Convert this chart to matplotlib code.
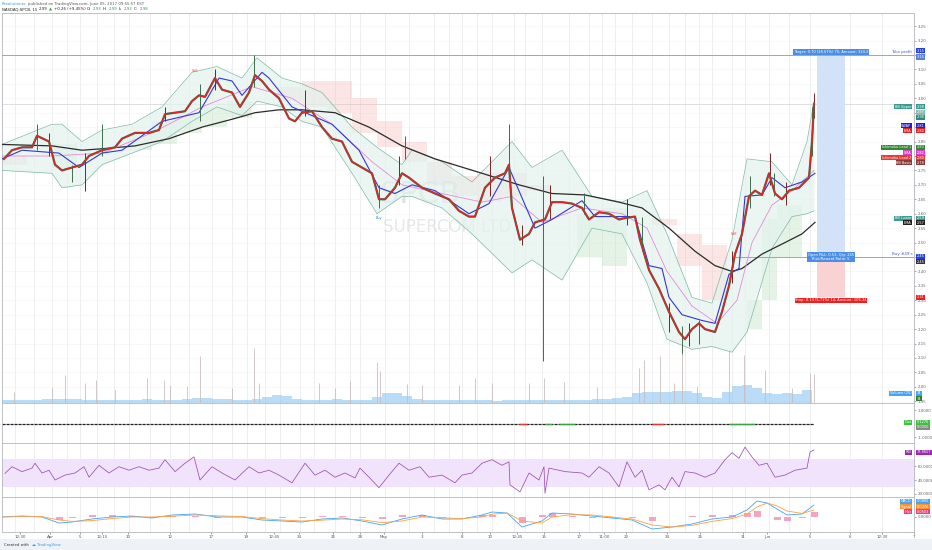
import numpy as np
import matplotlib
matplotlib.use("Agg")
import matplotlib.pyplot as plt
from matplotlib.transforms import blended_transform_factory
from matplotlib.patches import Rectangle

W, H = 932, 550

# ---------------- data ----------------
close_x = [2,10,20,30,35,47,53,60,70,80, 87,100,113,120,133,147,157,163,173,183,
           190,197,203,213,220,230,238,247,253,260, 267,277,287,293,300,310,320,330,340,350,
           360,370,377,383,393,400,407,420,433,447, 457,467,473,483,493,503,507,510,518,527,
           533,543,550,560,570,580,587,597,607,617, 623,633,638,647,657,667,677,683,690,697,
           703,713,720,727,733,740,747,753,760,767, 773,780,787,797,807,810,812]
close_p = [2.79,2.82,2.83,2.83,2.87,2.85,2.77,2.75,2.76,2.77, 2.80,2.82,2.83,2.86,2.88,2.88,2.89,2.945,2.95,2.955,
           2.99,3.01,3.005,3.07,3.03,3.02,2.97,3.02,3.08,3.06, 3.03,3.00,2.93,2.92,2.95,2.955,2.90,2.86,2.85,2.78,
           2.76,2.74,2.65,2.65,2.69,2.74,2.725,2.69,2.67,2.65, 2.61,2.59,2.59,2.69,2.725,2.74,2.77,2.62,2.51,2.53,
           2.57,2.58,2.64,2.64,2.635,2.62,2.58,2.605,2.60,2.58, 2.585,2.59,2.51,2.405,2.34,2.26,2.19,2.165,2.20,2.22,
           2.20,2.19,2.26,2.35,2.46,2.53,2.66,2.68,2.665,2.74, 2.67,2.65,2.68,2.69,2.725,2.85,2.98]

wick_x  = [35,47,70,83,100,163,198,213,252,303,377,397,403,488,507,520,541,548,582,625,640,667,680,687,697,730,748,768,772,784,810,812]
wick_lo = [2.82,2.80,2.71,2.68,2.80,2.92,2.92,3.03,3.04,2.94,2.62,2.70,2.79,2.66,2.72,2.49,2.09,2.58,2.60,2.56,2.47,2.19,2.11,2.14,2.15,2.36,2.62,2.70,2.66,2.63,2.80,2.93]
wick_hi = [2.91,2.88,2.77,2.81,2.91,2.97,3.05,3.10,3.15,3.03,2.70,2.80,2.87,2.80,2.91,2.56,2.73,2.70,2.67,2.65,2.59,2.29,2.21,2.22,2.23,2.47,2.73,2.81,2.74,2.71,2.97,3.02]

sma_x = [0,50,80,100,133,167,200,233,253,277,300,333,367,400,433,480,517,550,583,617,640,667,693,713,730,740,760,783,800,813]
sma_p = [2.84,2.835,2.82,2.825,2.835,2.86,2.90,2.93,2.95,2.96,2.96,2.95,2.90,2.835,2.79,2.74,2.70,2.67,2.665,2.64,2.62,2.55,2.47,2.42,2.40,2.41,2.46,2.50,2.53,2.57]

bb_x  = [0,50,60,80,100,130,160,190,215,240, 255,280,300,320,350,375,400,410,440,470,
         510,530,560,590,620,645,665,690,710,730, 745,770,790,805,812]
bb_up = [2.84,2.91,2.91,2.85,2.89,2.91,2.97,3.09,3.11,3.07, 3.14,3.07,3.05,3.02,2.90,2.83,2.77,2.82,2.78,2.71,
         2.85,2.76,2.82,2.66,2.64,2.68,2.53,2.31,2.29,2.51, 2.79,2.78,2.70,2.85,2.99]
bb_lo = [2.75,2.74,2.69,2.70,2.77,2.81,2.85,2.92,2.97,2.94, 2.99,2.97,2.92,2.90,2.74,2.60,2.66,2.66,2.62,2.53,
         2.395,2.44,2.37,2.55,2.53,2.36,2.165,2.13,2.14,2.12, 2.19,2.48,2.59,2.60,2.61]

cloud_x = [0,25,50,75,100,125,150,175,200,225, 250,275,300,325,350,375,400,425,450,475,
           500,525,550,575,600,625,650,675,700,725, 745,760,775,800,820,840]
span_a = [2.77,2.77,2.84,2.84,2.77,2.88,2.92,2.95,2.97,2.99, 3.00,2.99,2.97,2.95,2.88,2.83,2.78,2.70,2.66,2.64,
          2.66,2.68,2.45,2.60,2.62,2.60,2.56,2.42,2.30,2.18, 2.30,2.58,2.63,2.68,2.70,2.70]
span_b = [2.80,2.80,2.76,2.77,2.80,2.82,2.84,2.88,2.90,2.93, 2.96,3.04,3.06,3.06,3.00,2.92,2.85,2.78,2.73,2.74,
          2.74,2.70,2.52,2.45,2.42,2.42,2.58,2.53,2.49,2.33, 2.20,2.30,2.45,2.62,2.73,2.73]

vwap_x = [0,20,57,77,100,120,160,197,217,230, 240,260,267,290,300,330,357,377,393,410,
          433,467,487,507,533,550,580,593,620,633, 647,660,667,680,700,713,727,737,743,760, 770,783,800,813]
vwap_p = [2.79,2.82,2.81,2.76,2.81,2.82,2.92,2.95,3.07,3.06, 3.01,3.09,3.07,2.97,2.955,2.91,2.82,2.69,2.67,2.70,
          2.68,2.60,2.635,2.76,2.55,2.58,2.645,2.59,2.59,2.59, 2.42,2.41,2.31,2.25,2.23,2.22,2.39,2.41,2.66,2.665,
          2.725,2.69,2.71,2.74]

pink_x = [0,50,100,150,200,250,290,330,370,400,440,480,510,540,580,620,645,665,690,715,735,750,770,790,812]
pink_p = [2.80,2.80,2.81,2.88,2.97,3.04,3.00,2.91,2.78,2.70,2.67,2.64,2.66,2.57,2.62,2.60,2.55,2.40,2.28,2.22,2.30,2.50,2.63,2.68,2.75]

vol = [30,28,25,30,35,40,42,35,28,30, 32,30,28,30,35,30,28,30,40,48, 50,42,35,30,30,35,60,75,70,40,
       30,28,30,35,30,28,30,60,95,100, 70,35,30,28,25,25,28,30,25,22, 25,28,30,25,25,28,30,25,30,35,
       40,45,60,95,105,110,110,120,115,100, 60,50,110,170,180,150,100,90,95,85, 130]
spike_x = [12,50,63,83,94,113,145,162,168,185, 198,230,252,257,317,333,348,375,378,405,
           420,457,473,490,527,542,562,595,637,642, 658,672,680,695,727,742,763,790,808,812]
spike_v = [110,160,280,200,230,130,250,230,180,170, 470,150,550,200,200,150,220,410,320,190,
           180,180,250,200,200,250,210,160,350,430, 470,200,500,170,530,480,330,150,300,290]

rsi_x = [3,10,20,30,33,40,47,53,63,73, 82,87,97,107,117,127,137,147,157,163,
         173,183,192,198,210,220,233,247,257,267, 277,290,303,313,323,333,343,353,358,367,
         377,387,397,407,418,427,440,453,460,470, 480,490,500,507,508,518,527,537,542,543,
         547,563,580,587,597,607,617,625,633,640, 647,657,663,670,677,683,693,703,713,723,
         730,737,743,750,757,765,773,783,793,805, 808,812]
rsi_v = [49.5,59,52,57,64,50,54,40,47,50, 59,44,61,50,59,54,59,54,57,69,
         52,64,73,40,59,50,40,59,50,54, 47,36,64,47,54,44,50,43,57,44,
         29,47,64,54,59,44,47,36,47,50, 64,69,61,66,33,23,50,40,59,21,
         57,52,50,44,59,50,30,66,44,54, 26,33,26,44,30,52,50,44,50,69,
         79,71,87,73,61,64,44,47,54,57, 80,83]

macd_x = [0,20,40,57,70,90,110,130,150,170, 193,215,240,260,280,300,320,340,360,380,
          400,420,440,460,480,490,505,520,540,550, 570,590,610,630,650,670,690,710,730,745,
          755,765,775,785,800,812]
macd_v = [0.0,0.005,0.0,-0.03,-0.025,-0.01,0.0,0.005,-0.005,0.01, 0.015,0.0,0.0,-0.015,-0.02,-0.025,-0.01,-0.005,-0.02,-0.04,
          -0.01,0.01,-0.01,-0.01,0.01,0.025,0.02,-0.05,-0.02,0.02, 0.015,0.005,-0.005,-0.015,-0.06,-0.05,-0.035,-0.01,0.0,0.035,
          0.08,0.07,0.04,0.01,0.015,0.06]
signal_v = [0.0,0.002,0.002,-0.015,-0.022,-0.018,-0.008,0.0,0.0,0.004, 0.01,0.006,0.002,-0.008,-0.015,-0.02,-0.016,-0.01,-0.014,-0.028,
            -0.02,0.0,-0.004,-0.008,0.0,0.014,0.02,-0.02,-0.03,0.0, 0.012,0.01,0.0,-0.01,-0.04,-0.05,-0.042,-0.022,-0.008,0.015,
            0.05,0.07,0.055,0.03,0.018,0.035]

dist_start = [517,543,557,650,727]
dist_end   = [525,550,573,662,753]
dist_col   = ['#e53935','#43a047','#43a047','#e53935','#43a047']

session_starts = [13,32,50,65,78,95,112,127,148,168,187,210,230,245,263,278,298,312,333,348,358,383,
                  407,432,447,460,475,490,512,523,540,567,587,600,613,630,650,667,683,697,710,730,
                  743,767,787,808,848,880,912]
tick_x = [18,48,78,100,126,168,209,244,272,297,331,358,382,420,460,488,515,542,577,602,624,665,698,741,765,808,848,880,912]
tick_labels = ['12:30','Apr','5','12:15','10','12','17','19','12:45','24','26','28','May','3','8','10','12:45',
               '15','17','11:00','22','24','26','31','Jun','5','6','12:30','7']

last_price = 2.98
entry_price, target_price, stop_price = 2.45, 3.15, 2.31
pos_start, pos_end, entry_time = 815, 843, 733
signals = [(193, 3.095, 'Sell', '#e53935'), (377, 2.585, 'Buy', '#1e88e5'), (732, 2.53, 'Sell', '#e53935')]

# ---------------- figure ----------------
fig = plt.figure(figsize=(W/100, H/100), dpi=100, facecolor='white')

def rect(top_px, bot_px):
    return [2/W, 1 - bot_px/H, 912/W, (bot_px - top_px)/H]

XMAX = 912
ax = fig.add_axes(rect(13, 403))
ax2 = fig.add_axes(rect(403, 443))
ax3 = fig.add_axes(rect(443, 497))
ax4 = fig.add_axes(rect(497, 532))
axes = [ax, ax2, ax3, ax4]

for a in axes:
    a.set_xlim(0, XMAX)
    for s in a.spines.values():
        s.set_color('#b4b7bd'); s.set_linewidth(0.6)
    a.yaxis.tick_right()
    a.tick_params(axis='y', labelsize=2.8, colors='#666666', length=1.5, width=0.4, pad=1)
    a.tick_params(axis='x', length=0)
    for xs in session_starts:
        a.axvline(xs, color='#e6e8eb', lw=0.5, zorder=0)
    if a is not ax4:
        a.set_xticklabels([])

ax4.set_xticks(tick_x)
ax4.set_xticklabels(tick_labels)
ax4.tick_params(axis='x', labelsize=2.9, colors='#555555', length=1.5, width=0.4, pad=1)

# ---- main price pane ----
ax.set_ylim(1.944, 3.2955)
yt = np.round(np.arange(1.95, 3.30, 0.05), 2)
ax.set_yticks(yt)
ax.set_yticklabels([f"{v:.2f}" for v in yt])
for v in yt:
    ax.axhline(v, color='#f3f4f6', lw=0.4, zorder=0)

ax.axhline(last_price, color='#d9d9d9', lw=0.6, zorder=1)

ca, cb = np.array(span_a), np.array(span_b)
ax.fill_between(cloud_x, ca, cb, where=ca >= cb, step='post', color='#b7deb8', alpha=0.35, lw=0, zorder=1)
ax.fill_between(cloud_x, ca, cb, where=ca < cb, step='post', color='#f5b5b5', alpha=0.35, lw=0, zorder=1)

ax.fill_between(bb_x, bb_lo, bb_up, color='#e3f3ee', alpha=0.7, lw=0, zorder=2)
ax.plot(bb_x, bb_up, color='#80b9a5', lw=0.5, zorder=3)
ax.plot(bb_x, bb_lo, color='#80b9a5', lw=0.5, zorder=3)

ax.plot(sma_x, sma_p, color='#2b2b2b', lw=0.9, zorder=4)
ax.plot(pink_x, pink_p, color='#e58ad8', lw=0.6, zorder=4)
ax.plot(vwap_x, vwap_p, color='#3535d6', lw=0.8, zorder=5)

wcols = ['#3d6e4a' if i % 2 == 0 else '#7a2323' for i in range(len(wick_x))]
ax.vlines(wick_x, wick_lo, wick_hi, colors=wcols, lw=0.7, zorder=5)
ax.plot(close_x, close_p, color='#4a6b50', lw=1.6, zorder=5)
ax.plot(close_x, close_p, color='#e02424', lw=1.0, zorder=6)

# position tool
ax.fill_between([pos_start, pos_end], entry_price, target_price, color='#d3e2f7', lw=0, zorder=2)
ax.fill_between([pos_start, pos_end], stop_price, entry_price, color='#f9d3d3', lw=0, zorder=2)
ax.axhline(target_price, color='#9a9cf2', lw=0.7, zorder=3)
ax.hlines(entry_price, entry_time, XMAX, color='#9a9cf2', lw=0.7, zorder=3)
ax.text(900, target_price + 0.004, 'Take profit', color='#4b5bd6', fontsize=2.9, ha='center', va='bottom', zorder=8)
ax.text(900, entry_price + 0.004, "Buy #49's", color='#4b5bd6', fontsize=2.9, ha='center', va='bottom', zorder=8)
midx = (pos_start + pos_end) / 2
ax.text(midx, target_price + 0.003, 'Target: 0.70 (28.57%) 70, Amount: 324.3', color='white', fontsize=2.6,
        ha='center', va='bottom', zorder=9, bbox=dict(boxstyle='square,pad=0.2', fc='#4a8fe3', ec='none'))
ax.text(midx, entry_price, 'Open P&L: 0.53, Qty: 245\nRisk/Reward Ratio: 5', color='white', fontsize=2.6,
        ha='center', va='center', zorder=9, linespacing=0.9,
        bbox=dict(boxstyle='square,pad=0.2', fc='#4a8fe3', ec='none'))
ax.text(midx, stop_price - 0.003, 'Stop: 0.14 (5.71%) 14, Amount: 105.34', color='white', fontsize=2.6,
        ha='center', va='top', zorder=9, bbox=dict(boxstyle='square,pad=0.2', fc='#f01e1e', ec='none'))

# watermark
ax.text(418, 2.665, 'SPCB', fontsize=22, color='#c3c7ce', alpha=0.55, ha='center', va='center', zorder=1)
ax.text(445, 2.555, 'SUPERCOM LTD', fontsize=12, color='#c9ccd2', alpha=0.45, ha='center', va='center', zorder=1)

for sx, sy, st, sc in signals:
    ax.text(sx, sy, st, color=sc, fontsize=2.4, ha='center', va='center', zorder=9)

# volume overlay
axv = fig.add_axes(rect(13, 403))
axv.set_xlim(0, XMAX); axv.set_ylim(0, 3890); axv.set_axis_off(); axv.patch.set_alpha(0)
vol_x = 5 + 10 * np.arange(len(vol))
axv.bar(vol_x, vol, width=10, color='#8ec5f0', alpha=0.6, lw=0)
axv.vlines(spike_x, 0, spike_v, colors='#c8b9b9', lw=0.55)

# ---- distance pane ----
ax2.set_ylim(-1.44, 1.52)
ax2.set_yticks([1.0, -1.0]); ax2.set_yticklabels(['1.0000', '-1.0000'])
ax2.hlines(0, 0, 812, colors='#222222', linestyles=(0, (2.5, 0.7)), lw=0.9)
ax2.hlines([0]*len(dist_start), dist_start, dist_end, colors=dist_col, lw=1.0)

# ---- RSI pane ----
ax3.set_ylim(15.7, 92.9)
ax3.set_yticks([20, 40, 60]); ax3.set_yticklabels(['20.0000', '40.0000', '60.0000'])
ax3.axhspan(30, 70, color='#f1e3fb', lw=0, zorder=0.5)
ax3.plot(rsi_x, rsi_v, color='#9b4fb5', lw=0.55)

# ---- MACD pane ----
ax4.set_ylim(-0.075, 0.10)
ax4.set_yticks([0.0]); ax4.set_yticklabels(['0.0000'])
hist = np.array(macd_v) - np.array(signal_v)
ax4.bar(macd_x, hist, width=7, color='#f48fb1', alpha=0.8, lw=0)
ax4.plot(macd_x, macd_v, color='#42a5f5', lw=0.6)
ax4.plot(macd_x, signal_v, color='#ffa040', lw=0.6)

# ---- right-side value tags ----
def tag(a, y, val, fc, name=None, tc='white'):
    tr = blended_transform_factory(a.transAxes, a.transData)
    a.text(1.003, y, val, transform=tr, fontsize=2.5, color=tc, ha='left', va='center', clip_on=False, zorder=20,
           bbox=dict(boxstyle='square,pad=0.15', fc=fc, ec='none'))
    if name:
        a.text(0.997, y, name, transform=tr, fontsize=2.5, color=tc, ha='right', va='center', clip_on=False, zorder=20,
               bbox=dict(boxstyle='square,pad=0.15', fc=fc, ec='none'))

tag(ax, 3.164, '3.15', '#2443d6')
tag(ax, 3.143, '3.15', '#5b7ee6')
tag(ax, 2.970, '2.98', '#3a9a90', 'BB Upper')
tag(ax, 2.952, '2.97', '#8fb8ae')
tag(ax, 2.935, '2.98', '#2f8a7c')
tag(ax, 2.904, '2.81', '#2020c8', 'VWAP')
tag(ax, 2.887, '2.80', '#e02020', 'EMA')
tag(ax, 2.831, '2.83', '#2e8b2e', 'Ichimoku Lead 1')
tag(ax, 2.812, '2.82', '#e040c8', 'SMA')
tag(ax, 2.794, '2.80', '#e53935', 'Ichimoku Lead 2')
tag(ax, 2.776, '2.78', '#8b3a3a', 'BB Basis')
tag(ax, 2.585, '2.59', '#3a9a90', 'BB Lower')
tag(ax, 2.568, '2.57', '#222222', 'EMA')
tag(ax, 2.452, '2.45', '#2443d6')
tag(ax, 2.433, '2.45', '#333333')
tag(ax, 2.311, '2.31', '#f01e1e')
tag(ax, 1.978, '34', '#42a5f5', 'Volume (20)')
tag(ax, 1.958, '34', '#2e7d32')
tag(ax2, 0.11, '0.1276', '#3cc43c', 'Dist')
tag(ax2, -0.26, '0.0000', '#888888')
tag(ax3, 80, '73.8607', '#9c27b0', 'RSI')
tag(ax4, 0.078, '0.0880', '#42a5f5', 'MACD')
tag(ax4, 0.052, '0.0376', '#ff9030', 'Signal')
tag(ax4, 0.026, '0.0503', '#ec407a', 'Hist')

# ---- header / footer ----
fig.patches.append(Rectangle((0, 0), 1, 11/H, transform=fig.transFigure, fc='#eef1f6', ec='none', zorder=0))

renderer = fig.canvas.get_renderer()
def runs(x_px, y_px, parts, size=3.0, gap=1.5):
    x = x_px
    for txt, col, wt in parts:
        t = fig.text(x/W, 1 - y_px/H, txt, color=col, fontsize=size, fontweight=wt, ha='left', va='center')
        x += t.get_window_extent(renderer=renderer).width + gap

runs(2, 4, [('Resolutioner', '#3c9be0', 'normal'),
            ('published on TradingView.com, June 05, 2017 09:55:57 EST', '#555555', 'normal')], size=2.8)
runs(2, 9.5, [('NASDAQ:SPCB, 15', '#222222', 'normal'), ('2.99', '#222222', 'normal'), ('▲', '#2e9e4a', 'normal'),
              ('+0.26 (+9.45%)', '#222222', 'normal'), ('O:', '#222222', 'normal'), ('2.93', '#2e9e4a', 'normal'),
              ('H:', '#222222', 'normal'), ('2.99', '#2e9e4a', 'normal'), ('L:', '#222222', 'normal'),
              ('2.93', '#2e9e4a', 'normal'), ('C:', '#222222', 'normal'), ('2.98', '#2e9e4a', 'normal')], size=2.8)
runs(4, 545, [('Created with', '#333333', 'normal'), ('☁ TradingView', '#3c9be0', 'normal')], size=2.8, gap=3)

fig.savefig('out.png', dpi=100, facecolor='white')
